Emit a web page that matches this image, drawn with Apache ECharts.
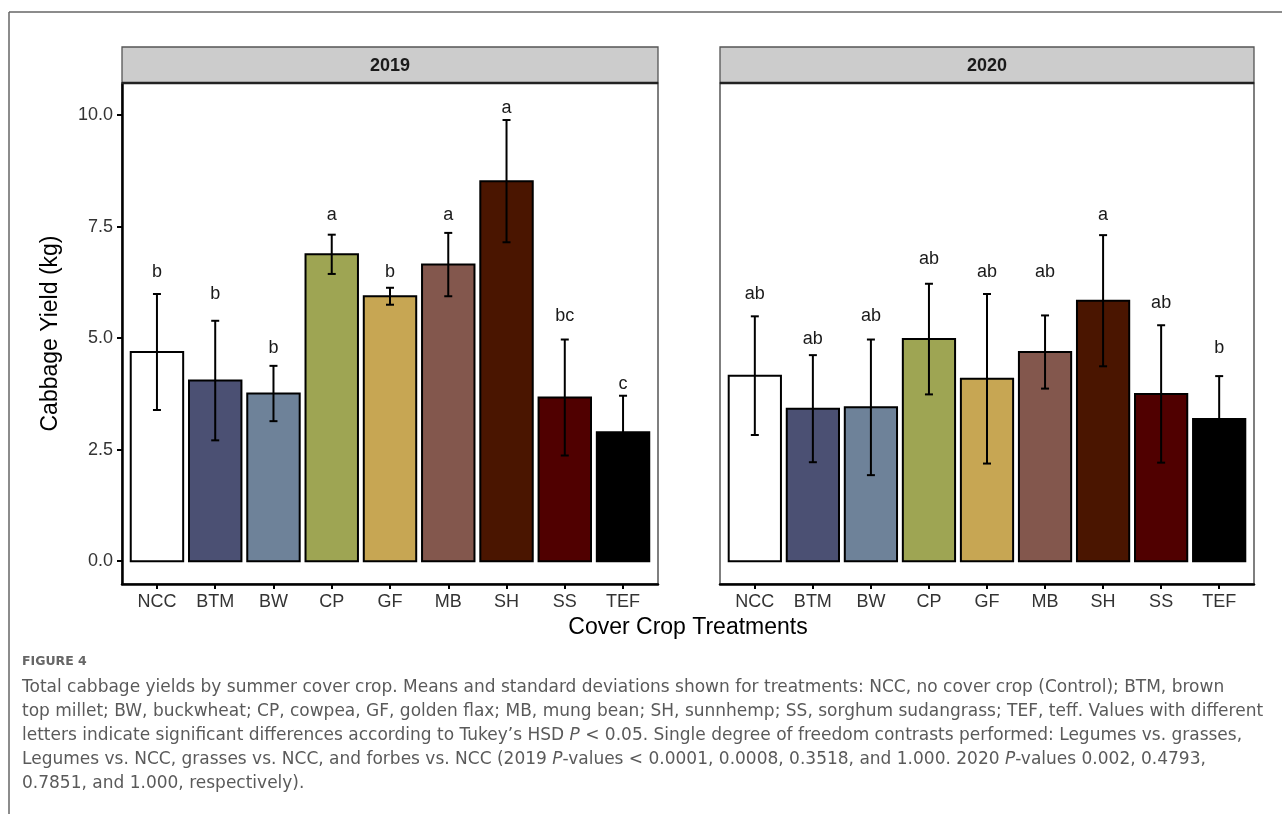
<!DOCTYPE html>
<html>
<head>
<meta charset="utf-8">
<title>Cabbage yield by summer cover crop</title>
<script src="https://cdn.jsdelivr.net/npm/echarts@6/dist/echarts.min.js"></script>
<style>
  html, body { margin: 0; padding: 0; background: #ffffff; }
  #chart { width: 1282px; height: 814px; }
</style>
</head>
<body>
<div id="chart"></div>
<script>
// Cover crop treatments (x axis categories)
const categories = ['NCC', 'BTM', 'BW', 'CP', 'GF', 'MB', 'SH', 'SS', 'TEF'];
const yTicks = [0, 2.5, 5, 7.5, 10];
const panelYears = ['2019', '2020'];

// Mean cabbage yield (kg) and standard deviation per treatment
const mean2019 = [4.69, 4.05, 3.76, 6.88, 5.94, 6.65, 8.52, 3.67, 2.89];
const sd2019   = [1.30, 1.34, 0.62, 0.44, 0.19, 0.71, 1.37, 1.30, 0.82];
const mean2020 = [4.16, 3.42, 3.45, 4.98, 4.09, 4.69, 5.84, 3.75, 3.19];
const sd2020   = [1.33, 1.20, 1.52, 1.24, 1.90, 0.82, 1.47, 1.54, 0.96];

// Tukey HSD grouping letters and the height (kg) at which each is placed
const letters2019 = ['b', 'b', 'b', 'a', 'b', 'a', 'a', 'bc', 'c'];
const letterY2019 = [6.49, 5.99, 4.79, 7.76, 6.49, 7.76, 10.16, 5.49, 3.98];
const letters2020 = ['ab', 'ab', 'ab', 'ab', 'ab', 'ab', 'a', 'ab', 'b'];
const letterY2020 = [5.99, 4.98, 5.50, 6.78, 6.48, 6.48, 7.76, 5.79, 4.78];

// Fill colour for each treatment
const fills = ['#ffffff', '#4b5073', '#6e8299', '#9ea553', '#c7a653', '#83574d', '#4a1500', '#500000', '#000000'];

const TEXT_FONT = '"Liberation Sans", Arial, Helvetica, sans-serif';
const CAP_FONT = '"DejaVu Sans", "Noto Sans", sans-serif';
const BAR_W = 0.9;

const panels = [
  { left: 122, right: 1282 - 658, mean: mean2019, sd: sd2019, letters: letters2019, letterY: letterY2019 },
  { left: 720, right: 1282 - 1254, mean: mean2020, sd: sd2020, letters: letters2020, letterY: letterY2020 }
];
const GRID_TOP = 83, GRID_BOTTOM = 814 - 584;

const chart = echarts.init(document.getElementById('chart'), null, { renderer: 'canvas' });

const grids = [], xAxes = [], yAxes = [], series = [];
panels.forEach((p, k) => {
  grids.push({
    left: p.left, right: p.right, top: GRID_TOP, bottom: GRID_BOTTOM,
    show: true, borderColor: '#555555', borderWidth: 1.5, backgroundColor: '#ffffff'
  });
  xAxes.push({
    type: 'value', gridIndex: k, min: 0.4, max: 9.6,
    axisLine: { show: true, onZero: false, lineStyle: { color: '#000', width: 2.5 } },
    axisTick: { show: true, length: 5, customValues: categories.map((c, i) => i + 1), lineStyle: { color: '#000', width: 2 } },
    axisLabel: {
      customValues: categories.map((c, i) => i + 1),
      formatter: v => categories[Math.round(v) - 1] || '',
      color: '#333333', fontSize: 18, fontFamily: TEXT_FONT, margin: 9
    },
    splitLine: { show: false }
  });
  yAxes.push({
    type: 'value', gridIndex: k, min: -0.51, max: 10.72,
    name: k === 0 ? 'Cabbage Yield (kg)' : '',
    nameLocation: 'middle', nameGap: 60,
    nameTextStyle: { fontSize: 23, color: '#000', fontFamily: TEXT_FONT },
    axisLine: { show: k === 0, onZero: false, lineStyle: { color: '#000', width: 2.5 } },
    axisTick: { show: k === 0, length: 5, customValues: yTicks, lineStyle: { color: '#000', width: 2 } },
    axisLabel: {
      show: k === 0, customValues: yTicks,
      formatter: v => v.toFixed(1),
      color: '#333333', fontSize: 18, fontFamily: TEXT_FONT, margin: 9
    },
    splitLine: { show: false }
  });

  const data = categories.map((c, i) => [i + 1, p.mean[i], p.sd[i], p.letterY[i], i]);

  // bars
  series.push({
    type: 'custom', xAxisIndex: k, yAxisIndex: k, data: data,
    renderItem: (params, api) => {
      const x = api.value(0), v = api.value(1), i = api.value(4);
      const a = api.coord([x - BAR_W / 2, v]);
      const b = api.coord([x + BAR_W / 2, 0]);
      return {
        type: 'rect',
        shape: { x: a[0], y: a[1], width: b[0] - a[0], height: b[1] - a[1] },
        style: { fill: fills[i], stroke: '#000', lineWidth: 2 }
      };
    },
    z: 2
  });

  // error bars (mean ± sd)
  series.push({
    type: 'custom', xAxisIndex: k, yAxisIndex: k, data: data,
    renderItem: (params, api) => {
      const x = api.value(0), v = api.value(1), s = api.value(2);
      const hi = api.coord([x, v + s]);
      const lo = api.coord([x, v - s]);
      const cap = 4;
      const st = { stroke: '#000', lineWidth: 2 };
      return {
        type: 'group',
        children: [
          { type: 'line', shape: { x1: hi[0], y1: hi[1], x2: lo[0], y2: lo[1] }, style: st },
          { type: 'line', shape: { x1: hi[0] - cap, y1: hi[1], x2: hi[0] + cap, y2: hi[1] }, style: st },
          { type: 'line', shape: { x1: lo[0] - cap, y1: lo[1], x2: lo[0] + cap, y2: lo[1] }, style: st }
        ]
      };
    },
    z: 3
  });

  // grouping letters
  series.push({
    type: 'custom', xAxisIndex: k, yAxisIndex: k, data: data,
    renderItem: (params, api) => {
      const x = api.value(0), ly = api.value(3), i = api.value(4);
      const pt = api.coord([x, ly]);
      return {
        type: 'text',
        style: {
          x: pt[0], y: pt[1], text: p.letters[i],
          fill: '#1a1a1a', fontSize: 18, fontFamily: TEXT_FONT,
          textAlign: 'center', textVerticalAlign: 'middle'
        }
      };
    },
    z: 4
  });
});

// facet strips
const strips = [];
[[122, 658], [720, 1254]].forEach((r, k) => {
  strips.push({
    type: 'rect', shape: { x: r[0], y: 47, width: r[1] - r[0], height: 36 },
    style: { fill: '#cccccc', stroke: '#555555', lineWidth: 1.3 }, z: 10
  });
  strips.push({
    type: 'line', shape: { x1: r[0], y1: 83, x2: r[1], y2: 83 },
    style: { stroke: '#222222', lineWidth: 2.5 }, z: 11
  });
  strips.push({
    type: 'text', x: (r[0] + r[1]) / 2, y: 66,
    style: {
      text: panelYears[k], fill: '#1a1a1a', fontSize: 18, fontWeight: 'bold',
      fontFamily: TEXT_FONT, textAlign: 'center', textVerticalAlign: 'middle'
    }, z: 11
  });
});

const captionLines = [
  'Total cabbage yields by summer cover crop. Means and standard deviations shown for treatments: NCC, no cover crop (Control); BTM, brown',
  'top millet; BW, buckwheat; CP, cowpea, GF, golden flax; MB, mung bean; SH, sunnhemp; SS, sorghum sudangrass; TEF, teff. Values with different',
  'letters indicate significant differences according to Tukey’s HSD {i|P} < 0.05. Single degree of freedom contrasts performed: Legumes vs. grasses,',
  'Legumes vs. NCC, grasses vs. NCC, and forbes vs. NCC (2019 {i|P}-values < 0.0001, 0.0008, 0.3518, and 1.000. 2020 {i|P}-values 0.002, 0.4793,',
  '0.7851, and 1.000, respectively).'
];
const captionY = [688, 712, 736, 760, 784];

const captionEls = captionLines.map((t, i) => ({
  type: 'text', x: 22, y: captionY[i],
  style: {
    text: t, fill: '#5a5a5a', fontSize: 17, fontFamily: CAP_FONT,
    textVerticalAlign: 'middle',
    rich: { i: { fontStyle: 'italic', fontSize: 17, fontFamily: CAP_FONT, fill: '#5a5a5a' } }
  }
}));

const option = {
  backgroundColor: '#ffffff',
  animation: false,
  grid: grids,
  xAxis: xAxes,
  yAxis: yAxes,
  series: series,
  graphic: [
    // figure frame
    { type: 'line', shape: { x1: 9, y1: 12, x2: 1282, y2: 12 }, style: { stroke: '#666666', lineWidth: 1.5 } },
    { type: 'line', shape: { x1: 9, y1: 12, x2: 9, y2: 814 }, style: { stroke: '#666666', lineWidth: 1.5 } },
    ...strips,
    {
      type: 'text', x: 688, y: 628,
      style: {
        text: 'Cover Crop Treatments', fill: '#000000', fontSize: 23, fontFamily: TEXT_FONT,
        textAlign: 'center', textVerticalAlign: 'middle'
      }
    },
    {
      type: 'text', x: 22, y: 662,
      style: { text: 'FIGURE 4', fill: '#666666', fontSize: 12.5, fontWeight: 'bold', fontFamily: CAP_FONT, textVerticalAlign: 'middle' }
    },
    ...captionEls
  ]
};

chart.setOption(option);
</script>
</body>
</html>
